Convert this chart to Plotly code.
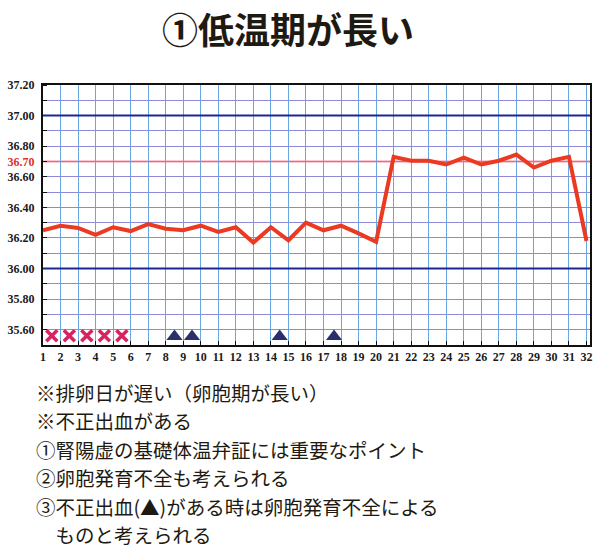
import plotly.graph_objects as go

# ---- data ----
days = list(range(1, 33))
temps = [36.25, 36.28, 36.265, 36.22, 36.27, 36.245, 36.29, 36.26, 36.25, 36.28,
         36.24, 36.27, 36.17, 36.27, 36.185, 36.30, 36.25, 36.28, 36.23, 36.175,
         36.73, 36.705, 36.705, 36.68, 36.725, 36.68, 36.705, 36.745, 36.66, 36.705,
         36.73, 36.18]
menses_days = [1.5, 2.5, 3.5, 4.5, 5.5]
menses_y = [35.56] * len(menses_days)
bleed_days = [8.5, 9.5, 14.5, 17.6]
bleed_y = [35.555] * len(bleed_days)
ytick_vals = [35.60, 35.80, 36.00, 36.20, 36.40, 36.60, 36.70, 36.80, 37.00, 37.20]
ytick_text = ["35.60", "35.80", "36.00", "36.20", "36.40", "36.60",
              "<span style='color:#e0302c'>36.70</span>", "36.80", "37.00", "37.20"]
major_lines = [36.00, 37.00]
ref_line = 36.70
title_text = "①低温期が長い"
notes = [
    "※排卵日が遅い（卵胞期が長い）",
    "※不正出血がある",
    "①腎陽虚の基礎体温弁証には重要なポイント",
    "②卵胞発育不全も考えられる",
    "③不正出血(▲)がある時は卵胞発育不全による",
    "\u3000ものと考えられる",
]

fig = go.Figure()

for v in major_lines:
    fig.add_shape(type="line", xref="paper", x0=0, x1=1, yref="y", y0=v, y1=v,
                  line=dict(color="#1c2690", width=2), layer="above")
fig.add_shape(type="line", xref="paper", x0=0, x1=1, yref="y", y0=ref_line, y1=ref_line,
              line=dict(color="#e8264e", width=1.5), layer="below")

fig.add_trace(go.Scatter(
    x=days, y=temps, mode="lines",
    line=dict(color="#ec3a22", width=4), hoverinfo="skip", showlegend=False))
fig.add_trace(go.Scatter(
    x=menses_days, y=menses_y, mode="markers",
    marker=dict(symbol="x-thin", size=11, line=dict(color="#d8245e", width=3.5)),
    showlegend=False))
fig.add_trace(go.Scatter(
    x=bleed_days, y=bleed_y, mode="markers",
    marker=dict(symbol="triangle-up", size=14, color="#2b2f6b"),
    showlegend=False))

fig.add_annotation(text=title_text, xref="paper", yref="paper", x=0.447, y=1.22,
                   yanchor="middle", xanchor="center", showarrow=False,
                   font=dict(family="Noto Sans CJK JP", size=36, color="#1e1a12", weight="bold"))

y0 = -0.181
for i, t in enumerate(notes):
    fig.add_annotation(text=t, xref="paper", yref="paper", x=-0.017, y=y0 - i * 0.1096,
                       xanchor="left", yanchor="middle", showarrow=False,
                       font=dict(family="Noto Sans CJK JP", size=19.5, color="#1e1a12"))

fig.update_layout(
    width=600, height=550,
    margin=dict(l=42, r=8, t=85, b=205),
    paper_bgcolor="white", plot_bgcolor="white",
    xaxis=dict(range=[1, 32.2], tickmode="linear", tick0=1, dtick=1,
               showgrid=True, gridcolor="#6aa6e2", gridwidth=1,
               showline=True, linecolor="#111", linewidth=2, mirror=True,
               ticks="inside", ticklen=4, tickcolor="#111",
               tickfont=dict(family="Liberation Serif", size=12, color="#1a1a1a", weight="bold"),
               zeroline=False),
    yaxis=dict(range=[35.5, 37.2], tickmode="array", tickvals=ytick_vals, ticktext=ytick_text,
               showgrid=True, gridcolor="#8e8ad6", gridwidth=1,
               showline=True, linecolor="#111", linewidth=2, mirror=True,
               ticks="", ticklabelstandoff=4,
               tickfont=dict(family="Liberation Serif", size=12, color="#1a1a1a", weight="bold"),
               minor=dict(tickmode="linear", tick0=35.5, dtick=0.1, showgrid=True,
                          gridcolor="#8e8ad6", gridwidth=1, ticks="inside", ticklen=4,
                          tickcolor="#111"),
               zeroline=False),
)

fig.write_html("out.html", config={"displayModeBar": False})

# remove default page margin so the figure sits at the window's top-left corner
with open("out.html", "r", encoding="utf-8") as f:
    html = f.read()
html = html.replace("<head>", "<head><style>html,body{margin:0;padding:0;overflow:hidden;}</style>", 1)
with open("out.html", "w", encoding="utf-8") as f:
    f.write(html)
